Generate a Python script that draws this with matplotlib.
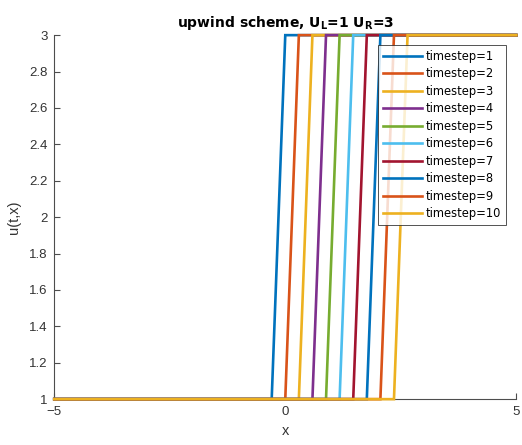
import matplotlib
matplotlib.use("Agg")
import matplotlib.pyplot as plt

# domain and states
x_min, x_max = -5.0, 5.0
u_left, u_right = 1.0, 3.0

timesteps = [1, 2, 3, 4, 5, 6, 7, 8, 9, 10]
# last grid point still at u_L, first grid point at u_R, per timestep
foot_x = [-0.294, 0.0, 0.294, 0.588, 0.882, 1.176, 1.471, 1.765, 2.059, 2.353]
head_x = [0.0, 0.294, 0.588, 0.882, 1.176, 1.471, 1.765, 2.059, 2.353, 2.647]

colors = ["#0072BD", "#D95319", "#EDB120", "#7E2F8E", "#77AC30",
          "#4DBEEE", "#A2142F", "#0072BD", "#D95319", "#EDB120"]

axis_gray = "#4d4d4d"

fig = plt.figure(figsize=(5.22, 4.45), dpi=100)
ax = fig.add_axes([0.104, 0.103, 0.885, 0.818])

for k, t in enumerate(timesteps):
    ax.plot([x_min, foot_x[k], head_x[k], x_max],
            [u_left, u_left, u_right, u_right],
            color=colors[k], lw=1.9, label="timestep=%d" % t,
            solid_joinstyle="miter", clip_on=False, zorder=2 + k)

ax.set_xlim(x_min, x_max)
ax.set_ylim(1, 3)
ax.set_xticks([-5, 0, 5])
ax.set_yticks([1, 1.2, 1.4, 1.6, 1.8, 2, 2.2, 2.4, 2.6, 2.8, 3])
ax.set_yticklabels(["1", "1.2", "1.4", "1.6", "1.8", "2", "2.2", "2.4",
                    "2.6", "2.8", "3"])

for side in ["top", "right"]:
    ax.spines[side].set_visible(False)
for side in ["left", "bottom"]:
    ax.spines[side].set_color(axis_gray)
    ax.spines[side].set_linewidth(0.8)

ax.tick_params(direction="in", length=4, width=0.8, color=axis_gray,
               labelcolor="#333333", labelsize=9.5, pad=5)
for lab in ax.get_xticklabels() + ax.get_yticklabels():
    lab.set_family("Liberation Sans")

ax.set_xlabel("x", fontsize=10.5, color="#333333", family="Liberation Sans",
              labelpad=4)
ax.set_ylabel("u(t,x)", fontsize=10.5, color="#333333",
              family="Liberation Sans", labelpad=6)
ax.set_title(r"upwind scheme, $\mathbf{U_L}$=1 $\mathbf{U_R}$=3",
             fontsize=10, fontweight="bold", pad=6)

leg = ax.legend(loc="upper right", bbox_to_anchor=(0.978, 0.972),
                fontsize=8.3, frameon=True, fancybox=False,
                handlelength=3.4, handletextpad=0.35, labelspacing=0.39,
                borderpad=0.4, borderaxespad=0)
leg.get_frame().set_edgecolor("#262626")
leg.get_frame().set_linewidth(0.7)
leg.set_zorder(20)

fig.savefig("out.png", dpi=100)
